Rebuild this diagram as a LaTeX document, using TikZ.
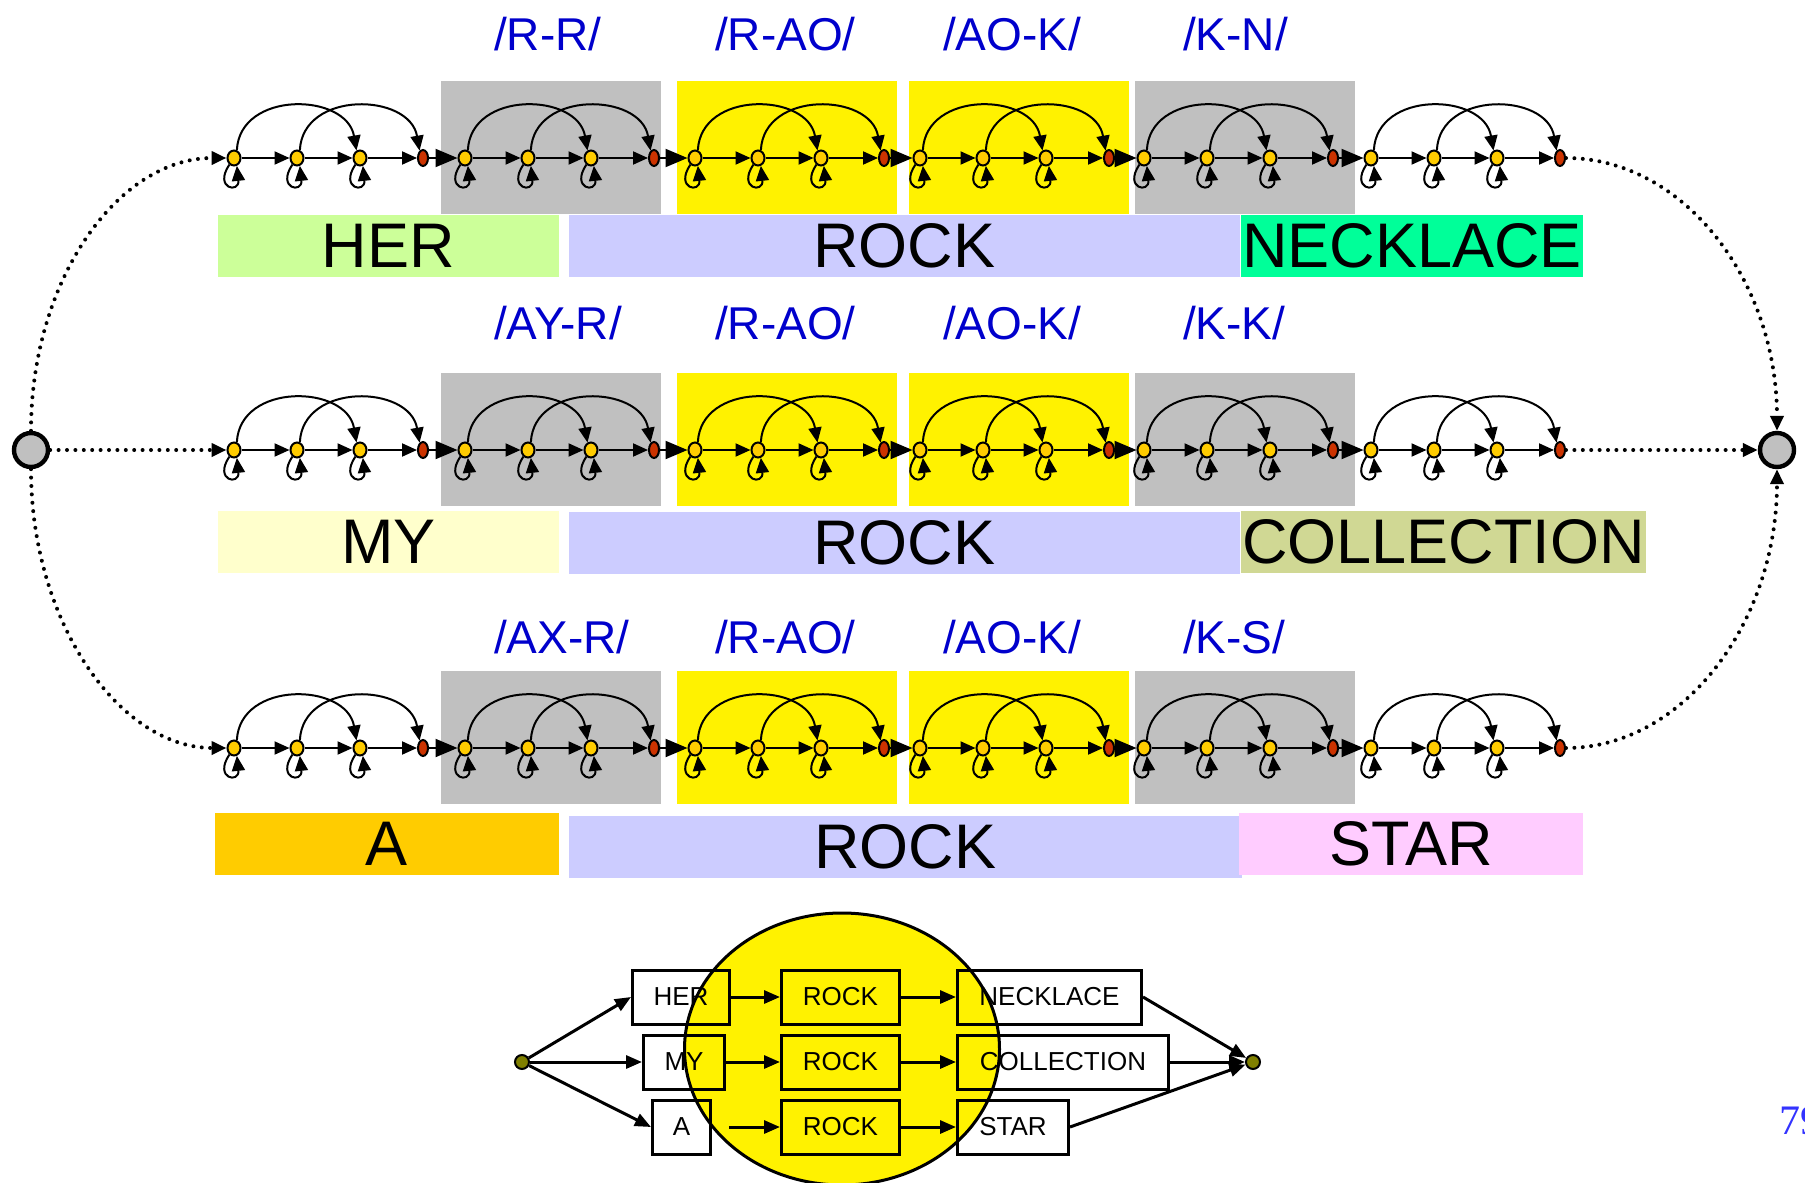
\documentclass[tikz,border=0pt]{standalone}
\usepackage{fontspec}
\setmainfont{Liberation Sans}
\newfontfamily\pagefont{Liberation Serif}
\usetikzlibrary{arrows.meta, shapes.geometric}

\definecolor{boxgray}{RGB}{192,192,192}
\definecolor{hergreen}{RGB}{204,255,153}
\definecolor{rockblue}{RGB}{204,204,255}
\definecolor{necklacegreen}{RGB}{0,255,153}
\definecolor{mycream}{RGB}{255,255,204}
\definecolor{collolive}{RGB}{208,216,148}
\definecolor{aorange}{RGB}{255,204,0}
\definecolor{starpink}{RGB}{255,204,255}
\definecolor{stategold}{RGB}{255,204,0}
\definecolor{finalred}{RGB}{204,51,0}
\definecolor{phoneblue}{RGB}{0,0,204}
\definecolor{nodeolive}{RGB}{128,128,0}
\definecolor{pageblue}{RGB}{51,51,255}

\tikzset{
    lattice/.style={
        x=0.5pt, y=-0.5pt,
        state/.style={ellipse, draw, line width=1pt, fill=stategold, minimum width=6.5pt, minimum height=7.5pt, inner sep=0pt},
        final/.style={state, fill=finalred, minimum width=5pt, minimum height=8pt},
        trans/.style={line width=1pt, -{Triangle[length=7.5pt,width=6.5pt]}},
        hop/.style={line width=1pt, -{Triangle[length=11pt,width=9pt]}},
        endpoint/.style={circle, draw, line width=2.2pt, fill=boxgray, minimum size=17pt, inner sep=0pt},
        link/.style={line width=2pt, dash pattern=on 0pt off 4.2pt, line cap=round, -{Triangle[length=7.5pt,width=6.5pt]}},
        bar/.style={inner sep=0pt, minimum height=31pt, font=\fontsize{31.5}{31.5}\selectfont},
        phone/.style={anchor=base west, text=phoneblue, font=\fontsize{23}{23}\selectfont},
        word/.style={draw, line width=1.5pt, minimum height=27pt, inner sep=0pt, font=\fontsize{13}{13}\selectfont},
        dot/.style={circle, draw, line width=1pt, fill=nodeolive, minimum size=7pt, inner sep=0pt},
        wire/.style={line width=1.5pt, -{Triangle[length=8pt,width=6.5pt]}}
    }
}

\begin{document}
\begin{tikzpicture}[lattice]
    \useasboundingbox (0,0) rectangle (1805,1183);

    % Shaded blocks behind the phone models
    \foreach \y in {158, 450, 748} {
        \fill[boxgray] (441,{\y-77}) rectangle (661,{\y+56});
        \fill[yellow] (677,{\y-77}) rectangle (897,{\y+56});
        \fill[yellow] (909,{\y-77}) rectangle (1129,{\y+56});
        \fill[boxgray] (1135,{\y-77}) rectangle (1355,{\y+56});
    }

    % Word bars
    \node[bar, fill=rockblue, minimum width=335.5pt] (rock1) at (904.5,246) {ROCK};
    \node[bar, fill=hergreen, minimum width=170.5pt] (her) at (388.5,246) {HER};
    \node[bar, fill=necklacegreen, minimum width=171pt] (necklace) at (1412,246) {NECKLACE};

    \node[bar, fill=rockblue, minimum width=335.5pt] (rock2) at (904.5,543) {ROCK};
    \node[bar, fill=mycream, minimum width=170.5pt] (my) at (388.5,542) {MY};
    \node[bar, fill=collolive, minimum width=202.5pt] (collection) at (1443.5,542) {COLLECTION};

    \node[bar, fill=rockblue, minimum width=336.5pt] (rock3) at (905.5,847) {ROCK};
    \node[bar, fill=aorange, minimum width=172pt] (a) at (387,844) {A};
    \node[bar, fill=starpink, minimum width=172pt] (star) at (1411,844) {STAR};

    % Triphone labels
    \node[phone] (p11) at (487,50) {/R-R/};
    \node[phone] (p12) at (708,50) {/R-AO/};
    \node[phone] (p13) at (936,50) {/AO-K/};
    \node[phone] (p14) at (1176,50) {/K-N/};

    \node[phone] (p21) at (487,339) {/AY-R/};
    \node[phone] (p22) at (708,339) {/R-AO/};
    \node[phone] (p23) at (936,339) {/AO-K/};
    \node[phone] (p24) at (1176,339) {/K-K/};

    \node[phone] (p31) at (487,653) {/AX-R/};
    \node[phone] (p32) at (708,653) {/R-AO/};
    \node[phone] (p33) at (936,653) {/AO-K/};
    \node[phone] (p34) at (1176,653) {/K-S/};

    % Phone models, three rows of six
    \foreach \r/\y in {1/158, 2/450, 3/748} {
        \foreach \g/\x in {1/234, 2/465, 3/695, 4/920, 5/1144, 6/1371} {
            \node[state] (h\r-\g-1) at (\x,\y) {};
            \node[state] (h\r-\g-2) at (\x+63,\y) {};
            \node[state] (h\r-\g-3) at (\x+126,\y) {};
            \node[final] (h\r-\g-4) at (\x+189,\y) {};
            \foreach \s/\t in {1/2, 2/3, 3/4}
                \draw[trans] (h\r-\g-\s) -- (h\r-\g-\t);
            \foreach \s in {1,2,3}
                \draw[trans] (h\r-\g-\s.235) .. controls +(-16,24) and +(3,28) .. (h\r-\g-\s.290);
            \foreach \s/\t in {1/3, 2/4}
                \draw[trans] (h\r-\g-\s.70) .. controls +(3,-60) and +(-10,-58) .. (h\r-\g-\t.115);
        }
        \foreach \g/\h in {1/2, 2/3, 3/4, 4/5, 5/6}
            \draw[hop] (h\r-\g-4) -- (h\r-\h-1);
    }

    % Common entry and exit
    \node[endpoint] (start) at (31,450) {};
    \node[endpoint] (stop) at (1777,450) {};
    \draw[link] (start.north) .. controls (31,280) and (118,158) .. (h1-1-1.west);
    \draw[link] (start) -- (h2-1-1);
    \draw[link] (start.south) .. controls (31,623) and (120,748) .. (h3-1-1.west);
    \draw[link] (h1-6-4.east) .. controls (1683,158) and (1777,280) .. (stop.north);
    \draw[link] (h2-6-4) -- (stop);
    \draw[link] (h3-6-4.east) .. controls (1683,748) and (1777,623) .. (stop.south);

    % Word graph with the shared ROCK
    \draw[fill=yellow, line width=1.5pt] (842,1049) ellipse [x radius=157.5, y radius=136];
    \node[dot] (begin) at (522,1062) {};
    \node[dot] (fin) at (1253,1062) {};
    \node[word, minimum width=48.5pt] (b-her) at (681,997) {HER};
    \node[word, minimum width=40.5pt] (b-my) at (684,1062) {MY};
    \node[word, minimum width=29pt] (b-a) at (681.5,1127) {A};
    \node[word, minimum width=59pt] (b-rock1) at (840.5,997) {ROCK};
    \node[word, minimum width=59pt] (b-rock2) at (840.5,1062) {ROCK};
    \node[word, minimum width=59pt] (b-rock3) at (840.5,1127) {ROCK};
    \node[word, minimum width=92pt] (b-necklace) at (1049.5,997) {NECKLACE};
    \node[word, minimum width=105.5pt] (b-collection) at (1063,1062) {COLLECTION};
    \node[word, minimum width=55.5pt] (b-star) at (1013,1127) {STAR};

    \draw[wire] (begin) -- (b-her.west);
    \draw[wire] (begin) -- (b-my.west);
    \draw[wire] (begin) -- (b-a.west);
    \draw[wire] (b-her) -- (b-rock1);
    \draw[wire] (b-my) -- (b-rock2);
    \draw[wire, shorten <=8.5pt] (b-a) -- (b-rock3);
    \draw[wire] (b-rock1) -- (b-necklace);
    \draw[wire] (b-rock2) -- (b-collection);
    \draw[wire] (b-rock3) -- (b-star);
    \draw[wire] (b-necklace.east) -- (fin);
    \draw[wire] (b-collection.east) -- (fin);
    \draw[wire] (b-star.east) -- (fin);

    % Slide number, cut by the page edge
    \node[anchor=base west, text=pageblue, font=\pagefont\fontsize{21}{21}\selectfont] (page) at (1772,1134) {79};
\end{tikzpicture}
\end{document}
